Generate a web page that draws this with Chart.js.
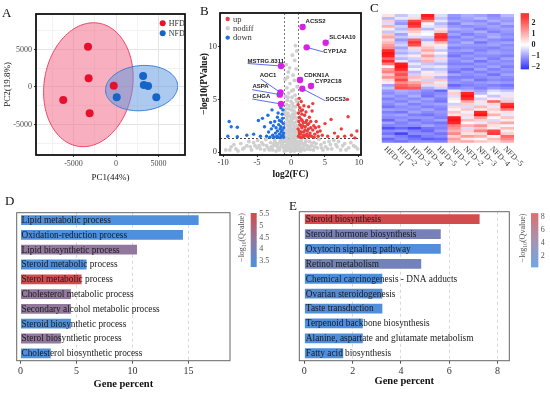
<!DOCTYPE html>
<html>
<head>
<meta charset="utf-8">
<script src="https://cdn.jsdelivr.net/npm/chart.js@4.4.1/dist/chart.umd.min.js"></script>
<style>
  body { margin: 0; background: #fff; }
  #wrap { position: relative; width: 550px; height: 395px; overflow: hidden; background: #fff; }
  canvas { position: absolute; }
  .tag { position: absolute; font-family: "Liberation Serif", serif; font-size: 13px; line-height: 13px; color: #111; }
</style>
</head>
<body>
<div id="wrap">
  <canvas id="pca" width="190" height="190" style="left:0;top:0"></canvas>
  <canvas id="volcano" width="185" height="190" style="left:180px;top:0"></canvas>
  <canvas id="heat" width="190" height="190" style="left:360px;top:0"></canvas>
  <canvas id="goBar" width="275" height="200" style="left:0;top:195px"></canvas>
  <canvas id="keggBar" width="275" height="200" style="left:275px;top:195px"></canvas>
  <div class="tag" style="left:2px;top:6px">A</div>
  <div class="tag" style="left:200px;top:4px">B</div>
  <div class="tag" style="left:370px;top:1px">C</div>
  <div class="tag" style="left:5px;top:194px">D</div>
  <div class="tag" style="left:289px;top:199px">E</div>
</div>
<script>
const SERIF = '"Liberation Serif", "Times New Roman", serif';
const SANS = '"Liberation Sans", Arial, sans-serif';

// ---- A: PCA scores ----
const hfdPC1 = [-3290, -3220, -6200, -3100, -270];
const hfdPC2 = [5370, 1160, -1730, -3500, 170];
const nfdPC1 = [3180, 3260, 3760, 80, 4730];
const nfdPC2 = [1470, 270, 130, -1370, -1370];
// confidence ellipses: centre PC1, centre PC2, half width, half height, tilt (deg)
const hfdEllipse = [-3250, 300, 5200, 8300, -7];
const nfdEllipse = [3000, -150, 4250, 3000, 7];

// ---- B: volcano, [log2FC, -log10 p] ----
const upGenes = [[1.1,1.5],[1.2,2.0],[1.3,2.6],[1.4,1.7],[1.5,3.1],[1.6,2.3],[1.7,1.4],[1.8,2.8],[1.9,1.9],[2.0,3.5],
  [2.1,2.4],[2.2,1.6],[2.3,3.0],[2.4,2.0],[2.5,1.45],[2.6,2.7],[2.7,3.3],[2.8,1.8],[2.9,2.3],[3.0,1.5],
  [3.1,3.9],[3.2,2.1],[3.35,2.5],[3.5,1.7],[3.7,2.9],[3.9,1.9],[4.1,2.4],[4.3,2.0],[4.6,1.6],[5.0,2.7],
  [5.4,1.5],[5.9,3.1],[6.4,1.8],[6.9,1.45],[7.4,2.2],[7.9,1.5],[8.4,3.35],[8.9,1.6],[9.4,1.35],[9.7,2.0],
  [8.3,5.0],[1.05,4.5],[1.2,5.1],[1.3,4.2],[1.5,4.8],[1.7,4.0],[2.6,4.3],[3.2,4.6],[1.1,3.7],[1.25,3.3],
  [1.45,3.9],[1.6,3.6],[1.9,4.4],[2.2,3.8],[1.05,2.2],[1.15,2.9],[1.35,1.4],[1.55,1.9],[1.75,2.5],[1.95,1.5],
  [2.15,2.8],[2.35,1.7],[2.55,2.2],[2.75,1.55],[1.25,1.8],[1.65,3.0],[2.05,2.1],[2.45,2.6],[1.85,1.6],[1.45,2.5],
  [2.9,2.9],[3.4,1.4],[3.6,2.3],[4.0,1.5]];
const downGenes = [[-9.3,1.5],[-9.1,2.9],[-8.8,2.4],[-7.9,2.35],[-7.9,1.45],[-6.5,1.6],[-5.5,1.7],[-4.8,3.0],
  [-4.2,3.2],[-3.9,2.4],[-3.4,3.5],[-2.8,4.0],[-2.4,2.9],[-1.9,3.7],[-1.6,2.2],[-1.4,2.9],[-3.6,1.5],[-3.3,1.9],
  [-3.1,1.4],[-2.9,2.2],[-2.7,1.6],[-2.6,2.5],[-2.5,1.4],[-2.3,1.8],[-2.2,2.3],[-2.1,1.5],[-2.0,2.0],[-1.9,1.4],
  [-1.8,2.6],[-1.7,1.7],[-1.6,1.35],[-1.5,2.4],[-1.45,1.9],[-1.4,1.5],[-1.3,2.1],[-1.25,3.2],[-1.2,1.6],[-1.15,2.7],
  [-1.1,1.4],[-1.05,2.3],[-1.3,3.6],[-1.5,4.2],[-2.0,3.3],[-1.2,4.0],[-1.7,3.0],[-3.0,2.8],[-4.5,1.5],[-1.1,1.8]];
const nodiffGenes = [[-0.9,1.5],[-0.7,1.8],[-0.5,2.1],[-0.3,1.6],[-0.1,2.4],[0.1,1.9],[0.3,2.6],[0.5,1.7],[0.7,2.2],[0.9,1.4],
  [-0.8,2.7],[-0.6,3.1],[-0.4,2.9],[-0.2,3.4],[0.0,3.0],[0.2,3.6],[0.4,3.2],[0.6,2.8],[0.8,3.3],[0.95,2.5],
  [-0.9,3.8],[-0.7,4.1],[-0.45,3.7],[-0.25,4.4],[0.05,4.0],[0.25,4.6],[0.45,3.9],[0.65,4.3],[0.85,4.8],[-0.55,4.9],
  [-0.8,5.3],[-0.35,5.6],[0.15,5.2],[0.35,5.9],[0.6,5.4],[0.9,6.2],[-0.6,6.1],[-0.15,6.5],[0.5,6.8],[-0.85,6.9],
  [0.3,7.3],[-0.4,7.6],[0.75,7.9],[-0.7,8.3],[0.55,8.7],[0.2,9.2],[-0.2,8.0],[0.85,9.6],[-0.5,7.1],[0.65,10.1],
  [-0.95,2.0],[-0.65,1.35],[-0.35,2.3],[-0.05,1.5],[0.15,2.9],[0.4,1.45],[0.55,2.45],[0.75,1.6],[0.9,3.0],[-0.75,3.5],
  [-0.15,2.7],[0.35,3.45],[-9.6,0.2],[-8.8,0.5],[-8.1,0.3],[-7.4,0.8],[-6.9,0.4],[-6.2,1.0],[-5.8,0.2],[-5.3,0.6],
  [-4.9,1.1],[-4.5,0.3],[-4.1,0.7],[-3.7,1.2],[-3.4,0.4],[-3.0,0.9],[-2.7,0.2],[-2.4,1.1],[-2.1,0.6],[-1.8,0.3],
  [-1.6,1.0],[-1.3,0.8],[-1.1,0.4],[-0.9,1.1],[-0.7,0.6],[-0.5,0.2],[-0.3,0.9],[-0.1,0.5],[0.1,1.2],[0.3,0.3],
  [0.5,0.8],[0.7,0.5],[0.9,1.0],[1.1,0.2],[1.3,0.7],[1.5,1.1],[1.8,0.4],[2.1,0.9],[2.4,0.3],[2.7,1.0],
  [3.0,0.6],[3.3,0.2],[3.7,0.8],[4.1,1.2],[4.5,0.4],[4.9,0.9],[5.4,0.3],[5.8,0.7],[6.3,1.1],[6.8,0.5],
  [7.3,0.2],[7.9,0.8],[8.5,0.4],[9.2,0.6],[9.8,0.3],[-2.2,0.1],[-1.9,0.8],[-1.5,0.5],[-1.2,1.2],[-0.8,0.3],
  [-0.6,0.9],[-0.4,0.5],[-0.2,1.1],[0.0,0.7],[0.2,0.2],[0.4,0.6],[0.6,1.1],[0.8,0.3],[1.0,0.9],[1.2,0.5],
  [1.4,0.1],[1.7,0.8],[2.0,0.2],[2.3,0.6],[2.6,0.4],[-2.9,0.5],[-3.2,0.2],[-2.5,0.8],[3.4,0.9],[3.9,0.4],
  [-4.3,0.9],[-5.0,0.4],[4.4,0.7],[5.1,0.5],[-6.5,0.6],[6.0,0.3],[-7.8,0.1],[7.6,0.6],[-0.05,0.05],[0.5,0.1],[-1.0,0.1],
  [-2.8,0.3],[-2.6,0.6],[-2.3,0.9],[-2.0,0.5],[-1.7,0.2],[-1.4,0.7],[-1.15,1.0],[-0.95,0.6],[-0.75,0.15],[-0.55,0.7],
  [-0.35,0.3],[-0.15,0.85],[0.05,0.35],[0.25,0.95],[0.45,0.25],[0.65,0.75],[0.85,0.2],[1.05,0.6],[1.25,1.0],[1.45,0.4],
  [1.65,0.25],[1.9,0.65],[2.2,1.05],[2.5,0.55],[2.8,0.25],[3.1,0.85],[3.5,0.5],[-3.6,0.6],[-3.9,0.2],[-4.7,0.6],
  [-5.5,0.9],[-6.0,0.5],[-7.1,0.3],[-8.4,0.7],[-9.0,0.2],[4.7,0.2],[5.6,1.0],[6.6,0.7],[7.0,1.0],[8.1,0.2],
  [8.8,0.9],[9.5,0.5],[-0.85,1.2],[-0.6,1.4],[-0.4,1.1],[-0.2,1.8],[0.0,1.3],[0.2,1.5],[0.45,2.0],[0.65,1.3],
  [0.85,1.8],[-0.5,2.5],[-0.25,2.0],[0.05,2.2],[0.3,2.2],[0.6,2.0],[-0.05,3.3],[0.5,3.6],[-0.55,3.4],[0.7,3.7],
  [-0.3,4.1],[0.3,4.3],[0.0,4.8],[-0.65,4.5],[0.75,5.0],[0.1,5.8],[-0.45,5.2]];
const geneNames = ['ACSS2', 'SLC4A10', 'CYP1A2', 'MSTRG.8311', 'CDKN1A', 'CYP2C18', 'SOCS3', 'AOC1', 'ASPA', 'CHGA'];
const geneFC = [1.7, 5.1, 2.3, -1.47, 1.32, 2.94, 1.66, -1.55, -1.65, -1.47];
const geneP = [11.87, 10.38, 9.94, 8.17, 6.84, 6.27, 6.01, 5.65, 5.45, 4.56];
const fcCut = 1;
const pCut = 1.3;

// ---- C: heatmap (rows top to bottom; HFD-1..5, NFD-1..5) ----
const heatCols = ['HFD−1', 'HFD−2', 'HFD−3', 'HFD−4', 'HFD−5', 'NFD−1', 'NFD−2', 'NFD−3', 'NFD−4', 'NFD−5'];
const heatRows = [
  [0.3,-0.5,-0.2,2.3,-0.3,-0.9,-0.7,-0.8,-1.0,-0.6],
  [-0.6,-0.2,0.4,2.1,-0.5,-1.0,-0.8,-0.6,-0.9,-0.8],
  [0.5,-0.7,1.9,1.2,-0.2,-0.8,-0.9,-1.0,-0.7,-0.9],
  [-0.3,-0.9,2.2,0.1,-0.6,-1.1,-0.7,-0.8,-1.0,-0.7],
  [0.8,-0.4,2.0,-0.2,-0.4,-0.9,-1.0,-0.9,-0.8,-1.0],
  [0.2,-0.6,0.9,-0.6,0.3,-0.7,-0.8,-1.1,-0.9,-0.8],
  [-0.5,-0.3,0.5,-0.1,0.6,-1.0,-0.9,-0.7,-1.1,-0.9],
  [0.6,-0.8,0.2,0.0,2.0,-0.8,-1.1,-0.9,-0.8,-1.0],
  [0.9,-0.5,-0.3,-0.4,2.2,-1.1,-0.8,-1.0,-0.7,-0.9],
  [0.4,-0.9,1.6,-0.7,1.8,-0.9,-1.0,-0.8,-1.0,-1.1],
  [0.7,-0.6,2.1,-0.2,0.8,-1.0,-0.7,-1.2,-0.9,-0.8],
  [1.0,-0.4,1.8,0.3,0.2,-0.8,-0.9,-0.9,-0.8,-1.0],
  [1.2,-0.8,0.4,0.6,-0.2,-1.1,-1.0,-1.0,-1.1,-0.9],
  [2.2,-0.5,-0.3,0.9,-0.5,-0.9,-0.8,-1.1,-0.9,-1.0],
  [2.4,-0.7,-0.5,0.4,0.1,-1.0,-1.1,-0.9,-0.8,-0.9],
  [2.3,-0.3,0.2,1.0,-0.4,-1.2,-0.9,-1.0,-1.0,-1.1],
  [1.6,-0.6,-0.4,0.5,0.4,-0.9,-1.0,-0.8,-1.1,-0.8],
  [2.2,-0.2,-0.6,0.8,-0.3,-1.0,-0.8,-1.2,-0.9,-1.0],
  [1.4,2.3,-0.2,-0.5,-0.6,-1.1,-1.1,-0.9,-1.0,-0.9],
  [0.1,2.4,-0.5,-0.3,-0.2,-0.9,-0.9,-1.0,-0.8,-1.1],
  [1.0,2.2,-0.1,-0.6,-0.5,-1.0,-1.2,-0.8,-1.1,-0.9],
  [1.3,1.5,-0.6,0.2,-0.3,-1.2,-0.9,-1.1,-0.9,-1.0],
  [0.6,1.8,-0.4,-0.2,0.3,-0.8,-1.0,-0.9,-1.2,-0.8],
  [1.1,1.4,0.7,0.5,-0.6,-1.1,-1.1,-1.0,-0.9,-1.0],
  [0.4,1.9,0.4,-0.4,0.6,-1.0,-0.8,-1.2,-1.0,-1.1],
  [0.2,1.2,0.9,0.6,-0.2,-0.9,-1.0,-0.9,-0.8,-0.9],
  [-0.8,1.6,1.3,-0.3,0.4,-1.3,-1.1,-1.0,-1.1,-1.2],
  [-0.5,1.8,1.7,-0.7,-0.4,-1.0,-0.9,-1.1,-0.9,-1.0],
  [-0.9,-0.7,-0.8,-1.0,-1.3,-0.2,-0.6,-0.8,-0.3,-0.5],
  [-1.0,-0.8,-0.9,-1.1,-1.0,0.5,2.2,-0.6,-0.1,-0.2],
  [-0.8,-1.0,-0.7,-1.2,-0.9,-0.3,2.4,0.1,-0.5,0.3],
  [-1.1,-0.9,-1.0,-0.8,-1.1,0.2,2.1,-0.4,0.2,-0.3],
  [-0.9,-1.1,-0.8,-1.0,-1.2,0.0,0.9,0.3,1.6,0.6],
  [-1.0,-0.8,-1.1,-0.9,-0.8,-0.4,0.5,-0.2,0.4,2.1],
  [-1.2,-1.0,-0.9,-1.1,-1.0,0.4,-0.3,0.7,-0.2,2.3],
  [-0.8,-0.9,-1.0,-0.8,-1.1,0.1,0.6,0.2,0.5,1.4],
  [-1.1,-1.2,-0.8,-1.0,-0.9,0.6,-0.1,2.2,0.2,0.3],
  [-0.9,-0.8,-1.1,-1.2,-1.0,0.3,0.4,2.4,0.8,-0.2],
  [-1.0,-1.0,-0.9,-0.9,-1.1,2.3,-0.2,1.0,0.1,0.6],
  [-1.3,-0.9,-1.2,-1.0,-0.8,2.4,0.7,0.5,-0.3,0.2],
  [-0.8,-1.1,-0.9,-1.1,-1.2,2.2,0.1,-0.2,0.6,0.9],
  [-1.1,-1.0,-1.0,-0.8,-1.0,1.3,0.8,1.1,0.3,-0.1],
  [-1.5,-1.3,-1.6,-1.2,-1.1,1.1,-0.3,0.6,0.2,0.7],
  [-1.0,-0.9,-1.1,-1.3,-0.9,0.8,0.5,1.3,1.9,0.2],
  [-1.2,-1.6,-1.0,-1.0,-1.2,1.2,0.3,0.4,2.0,0.5],
  [-0.9,-1.1,-1.4,-1.1,-1.0,0.5,1.0,0.8,0.1,1.5],
  [-1.3,-1.0,-1.2,-1.4,-1.3,1.0,0.2,0.1,0.7,1.2],
  [-1.1,-1.2,-1.0,-1.0,-1.1,0.7,0.9,0.6,0.4,0.8]
];
const heatTicks = [2, 1, 0, -1, -2];

// ---- D: GO enrichment ----
const goTerms = ['Lipid metabolic process', 'Oxidation-reduction process', 'Lipid biosynthetic process',
  'Steroid metabolic process', 'Sterol metabolic process', 'Cholesterol metabolic process',
  'Secondary alcohol metabolic process', 'Steroid biosynthetic process', 'Sterol biosynthetic process',
  'Cholesterol biosynthetic process'];
const goPercent = [15.9, 14.5, 10.4, 5.9, 5.45, 4.5, 4.5, 4.5, 3.6, 2.7];
const goLogQ = [3.3, 3.3, 4.4, 3.3, 5.5, 4.4, 4.4, 3.3, 4.4, 3.3];
const goTicks = [5.5, 5, 4.5, 4, 3.5];

// ---- E: KEGG enrichment ----
const keggTerms = ['Steroid biosynthesis', 'Steroid hormone biosynthesis', 'Oxytocin signaling pathway',
  'Retinol metabolism', 'Chemical carcinogenesis - DNA adducts', 'Ovarian steroidogenesis',
  'Taste transduction', 'Terpenoid backbone biosynthesis', 'Alanine, aspartate and glutamate metabolism',
  'Fatty acid biosynthesis'];
const keggPercent = [7.26, 5.65, 5.65, 4.84, 3.23, 3.23, 3.23, 2.42, 2.42, 1.61];
const keggLogQ = [8.4, 2.8, 0.6, 2.6, 0.5, 0.5, 0.5, 0.5, 0.5, 0.5];
const keggTicks = [8, 6, 4, 2];

// ---------- helpers ----------
function mix(a, b, t) { return a.map((v, i) => Math.round(v + (b[i] - v) * t)); }
function qColor(v, lo, hi) {
  const t = Math.max(0, Math.min(1, (v - lo) / (hi - lo)));
  const low = [74, 144, 226], mid = [145, 120, 158], high = [212, 74, 74];
  const c = t < 0.5 ? mix(low, mid, t * 2) : mix(mid, high, (t - 0.5) * 2);
  return `rgb(${c[0]},${c[1]},${c[2]})`;
}
function heatColor(v) {
  if (v >= 0) { const t = Math.min(v / 2.6, 1); const g = Math.round(255 * (1 - t)); return `rgb(255,${g},${g})`; }
  const t = Math.min(-v / 2.2, 1); const g = Math.round(255 * (1 - t)); return `rgb(${g},${g},255)`;
}
function drawColorbar(ctx, o) {
  for (let py = 0; py < o.h; py++) {
    const v = o.max - (py + 0.5) / o.h * (o.max - o.min);
    ctx.fillStyle = o.color(v);
    ctx.fillRect(o.x, o.y + py, o.w, 1);
  }
  ctx.font = o.font; ctx.fillStyle = o.textColor;
  ctx.textBaseline = 'middle'; ctx.textAlign = 'left';
  o.ticks.forEach(t => {
    const py = o.y + (o.max - t) / (o.max - o.min) * o.h;
    ctx.fillText(String(t).replace('-', '−'), o.x + o.w + 2.5, py);
  });
}
// rotated "−log10(Qvalue)" with subscript
function drawQTitle(ctx, cx, cy, size) {
  const parts = [['−log', size, 0], ['10', size * 0.7, 2], ['(Qvalue)', size, 0]];
  ctx.save();
  ctx.translate(cx, cy); ctx.rotate(-Math.PI / 2);
  let total = 0;
  parts.forEach(p => { ctx.font = `${p[1]}px ${SERIF}`; total += ctx.measureText(p[0]).width; });
  let x = -total / 2;
  ctx.fillStyle = '#555'; ctx.textBaseline = 'middle'; ctx.textAlign = 'left';
  parts.forEach(p => { ctx.font = `${p[1]}px ${SERIF}`; ctx.fillText(p[0], x, p[2]); x += ctx.measureText(p[0]).width; });
  ctx.restore();
}

const framePlugin = {
  id: 'frame',
  afterDatasetsDraw(chart, args, opts) {
    const { ctx, chartArea: c } = chart;
    ctx.save();
    ctx.strokeStyle = opts.color; ctx.lineWidth = opts.width;
    ctx.strokeRect(c.left, c.top, c.right - c.left, c.bottom - c.top);
    ctx.restore();
  }
};
const dotLegendPlugin = {
  id: 'dotLegend',
  afterDraw(chart, args, opts) {
    const { ctx } = chart;
    ctx.save();
    ctx.font = `${opts.size}px ${SERIF}`; ctx.textBaseline = 'middle'; ctx.fillStyle = '#333';
    opts.items.forEach((it, i) => {
      const y = opts.y + i * opts.gap;
      ctx.beginPath(); ctx.arc(opts.x, y, opts.r, 0, Math.PI * 2);
      ctx.fillStyle = it.color; ctx.fill();
      ctx.fillStyle = '#333'; ctx.fillText(it.label, opts.x + opts.r + 3, y + 0.5);
    });
    ctx.restore();
  }
};
const ellipsePlugin = {
  id: 'ellipses',
  beforeDatasetsDraw(chart, args, opts) {
    const { ctx, scales: { x, y } } = chart;
    opts.items.forEach(e => {
      const [cx, cy, a, b, deg] = e.shape;
      const th = deg * Math.PI / 180;
      ctx.save();
      ctx.beginPath();
      for (let i = 0; i <= 120; i++) {
        const t = i / 120 * Math.PI * 2;
        const dx = a * Math.cos(t), dy = b * Math.sin(t);
        const px = x.getPixelForValue(cx + dx * Math.cos(th) - dy * Math.sin(th));
        const py = y.getPixelForValue(cy + dx * Math.sin(th) + dy * Math.cos(th));
        i ? ctx.lineTo(px, py) : ctx.moveTo(px, py);
      }
      ctx.closePath();
      ctx.fillStyle = e.fill; ctx.fill();
      ctx.strokeStyle = e.stroke; ctx.lineWidth = 1; ctx.stroke();
      ctx.restore();
    });
  }
};
const cutLinePlugin = {
  id: 'cutLines',
  beforeDatasetsDraw(chart) {
    const { ctx, chartArea: c, scales: { x, y } } = chart;
    ctx.save();
    ctx.setLineDash([2, 2]); ctx.lineWidth = 1;
    ctx.strokeStyle = '#777';
    [-fcCut, fcCut].forEach(v => {
      const px = Math.round(x.getPixelForValue(v)) + 0.5;
      ctx.beginPath(); ctx.moveTo(px, c.top); ctx.lineTo(px, c.bottom); ctx.stroke();
    });
    ctx.strokeStyle = '#444';
    const py = Math.round(y.getPixelForValue(pCut)) + 0.5;
    ctx.beginPath(); ctx.moveTo(c.left, py); ctx.lineTo(c.right, py); ctx.stroke();
    ctx.restore();
  }
};
// label offsets in px from each highlighted gene: text left/middle, line end
const geneLabelLayout = [
  [3, -5.3, 2.5, -3], [3.7, -5, 3, -3], [16.7, 3.7, 16.5, 4.5], [-33.4, -5, -33.4, -2.5],
  [4, -5, 2.5, -3], [4, -5, 2.5, -3], [23.3, 10.8, 23, 12], [-20.7, -16.7, -19.7, -13.5],
  [-27.4, -8.7, -27.7, -5], [-28.4, -8, -28.7, -5]
];
const geneLabelPlugin = {
  id: 'geneLabels',
  afterDatasetsDraw(chart) {
    const { ctx, scales: { x, y } } = chart;
    ctx.save();
    geneNames.forEach((name, i) => {
      const px = x.getPixelForValue(geneFC[i]), py = y.getPixelForValue(geneP[i]);
      const [tdx, tdy, ldx, ldy] = geneLabelLayout[i];
      ctx.strokeStyle = '#4a5cf0'; ctx.lineWidth = 0.9;
      ctx.beginPath(); ctx.moveTo(px, py); ctx.lineTo(px + ldx, py + ldy); ctx.stroke();
      ctx.font = `bold 6px ${SANS}`; ctx.fillStyle = '#222'; ctx.textBaseline = 'middle';
      ctx.fillText(name, px + tdx, py + tdy);
    });
    ctx.restore();
  }
};

const baseOpts = { responsive: false, animation: false, devicePixelRatio: 1 };
const noTip = { legend: { display: false }, tooltip: { enabled: false } };

// ---------- A ----------
new Chart(document.getElementById('pca'), {
  type: 'scatter',
  data: {
    datasets: [
      { label: 'HFD', data: hfdPC1.map((x, i) => ({ x, y: hfdPC2[i] })), backgroundColor: '#e8112d', pointRadius: 4, borderWidth: 0 },
      { label: 'NFD', data: nfdPC1.map((x, i) => ({ x, y: nfdPC2[i] })), backgroundColor: '#1565c8', pointRadius: 4, borderWidth: 0 }
    ]
  },
  plugins: [ellipsePlugin, framePlugin, dotLegendPlugin],
  options: {
    ...baseOpts,
    layout: { padding: { top: 14, right: 5, left: 0, bottom: 0 } },
    plugins: {
      ...noTip,
      ellipses: { items: [
        { shape: hfdEllipse, fill: 'rgba(243,110,140,0.55)', stroke: '#ef4668' },
        { shape: nfdEllipse, fill: 'rgba(90,150,225,0.5)', stroke: '#3a7fd4' }
      ] },
      frame: { color: '#111', width: 1.8 },
      dotLegend: { x: 162.7, y: 23.3, gap: 10, r: 3, size: 8, items: [{ label: 'HFD', color: '#e8112d' }, { label: 'NFD', color: '#1565c8' }] }
    },
    scales: {
      x: {
        type: 'linear', min: -9400, max: 8100,
        afterFit: s => { s.height = 35; },
        afterBuildTicks: s => { s.ticks = [-7500, -5000, -2500, 0, 2500, 5000, 7500].map(v => ({ value: v })); },
        ticks: { autoSkip: false, maxRotation: 0, padding: 2, color: '#4d4d4d', font: { family: SERIF, size: 8 },
          callback: v => (v % 5000 === 0 ? String(v) : '') },
        grid: { color: c => (c.tick && c.tick.value % 5000 === 0 ? '#e4e4e4' : '#f2f2f2'),
          tickColor: c => (c.tick && c.tick.value % 5000 === 0 ? '#333' : 'rgba(0,0,0,0)'), tickLength: 2 },
        border: { display: false },
        title: { display: true, text: 'PC1(44%)', color: '#111', font: { family: SERIF, size: 9 }, padding: { top: 0, bottom: 6.6 } }
      },
      y: {
        type: 'linear', min: -9070, max: 9730,
        afterFit: s => { s.width = 36; },
        afterBuildTicks: s => { s.ticks = [-7500, -5000, -2500, 0, 2500, 5000, 7500].map(v => ({ value: v })); },
        ticks: { autoSkip: false, padding: 2, color: '#4d4d4d', font: { family: SERIF, size: 8 },
          callback: v => (v % 5000 === 0 ? String(v) : '') },
        grid: { color: c => (c.tick && c.tick.value % 5000 === 0 ? '#e4e4e4' : '#f2f2f2'),
          tickColor: c => (c.tick && c.tick.value % 5000 === 0 ? '#333' : 'rgba(0,0,0,0)'), tickLength: 2 },
        border: { display: false },
        title: { display: true, text: 'PC2(19.8%)', color: '#111', font: { family: SERIF, size: 9 }, padding: { top: 2.6, bottom: 0 } }
      }
    }
  }
});

// ---------- B ----------
new Chart(document.getElementById('volcano'), {
  type: 'scatter',
  data: {
    datasets: [
      { label: 'nodiff', data: nodiffGenes.map(([x, y]) => ({ x, y })), backgroundColor: '#cfcfcf', pointRadius: 1.9, borderWidth: 0, order: 3 },
      { label: 'up', data: upGenes.map(([x, y]) => ({ x, y })), backgroundColor: '#ee3b3b', pointRadius: 1.7, borderWidth: 0, order: 2 },
      { label: 'down', data: downGenes.map(([x, y]) => ({ x, y })), backgroundColor: '#1f6fe0', pointRadius: 1.7, borderWidth: 0, order: 2 },
      { label: 'marked', data: geneFC.map((x, i) => ({ x, y: geneP[i] })), backgroundColor: '#e31ee3', pointRadius: 3.2, borderWidth: 0, order: 1 }
    ]
  },
  plugins: [cutLinePlugin, framePlugin, geneLabelPlugin, dotLegendPlugin],
  options: {
    ...baseOpts,
    layout: { padding: { top: 13, right: 3, left: 0, bottom: 0 } },
    plugins: {
      ...noTip,
      frame: { color: '#111', width: 1.8 },
      dotLegend: { x: 47.7, y: 19, gap: 9.3, r: 2.2, size: 8.5, items: [
        { label: 'up', color: '#ee3b3b' }, { label: 'nodiff', color: '#cfcfcf' }, { label: 'down', color: '#1f6fe0' }] }
    },
    scales: {
      x: {
        type: 'linear', min: -10.45, max: 10.3,
        afterFit: s => { s.height = 35; },
        afterBuildTicks: s => { s.ticks = [-10, -5, 0, 5, 10].map(v => ({ value: v })); },
        ticks: { autoSkip: false, maxRotation: 0, padding: 1, color: '#333', font: { family: SERIF, size: 8.5 }, callback: v => String(v) },
        grid: { drawOnChartArea: false, tickColor: '#333', tickLength: 2 },
        border: { display: false },
        title: { display: true, text: 'log2(FC)', color: '#111', font: { family: SERIF, size: 9.5, weight: 'bold' }, padding: { top: 0, bottom: 10 } }
      },
      y: {
        type: 'linear', min: -0.28, max: 13.2,
        afterFit: s => { s.width = 40; },
        afterBuildTicks: s => { s.ticks = [0, 5, 10].map(v => ({ value: v })); },
        ticks: { autoSkip: false, padding: 1, color: '#333', font: { family: SERIF, size: 8.5 }, callback: v => String(v) },
        grid: { drawOnChartArea: false, tickColor: '#333', tickLength: 2 },
        border: { display: false },
        title: { display: true, text: '−log10(PValue)', color: '#111', font: { family: SERIF, size: 9.5, weight: 'bold' }, padding: { top: 19.3, bottom: 0 } }
      }
    }
  }
});

// ---------- C ----------
const heatDecor = {
  id: 'heatDecor',
  afterDraw(chart) {
    const { ctx, chartArea: c, scales: { x } } = chart;
    ctx.save();
    ctx.font = `8px ${SERIF}`; ctx.fillStyle = '#333'; ctx.textBaseline = 'middle'; ctx.textAlign = 'left';
    heatCols.forEach((lab, i) => {
      ctx.save();
      ctx.translate(x.getPixelForValue(i) - 3, c.bottom + 5);
      ctx.rotate(Math.PI / 4);
      ctx.fillText(lab, 0, 0);
      ctx.restore();
    });
    drawColorbar(ctx, { x: 160.7, y: 13.3, w: 8.3, h: 55.7, min: -2.2, max: 2.93, color: heatColor,
      ticks: heatTicks, font: `bold 8px ${SERIF}`, textColor: '#222' });
    ctx.restore();
  }
};
new Chart(document.getElementById('heat'), {
  type: 'bar',
  data: {
    labels: heatCols,
    datasets: heatRows.map(row => ({
      data: row.map(() => 1),
      backgroundColor: row.map(heatColor),
      borderWidth: 0, barPercentage: 1, categoryPercentage: 1
    }))
  },
  plugins: [heatDecor],
  options: {
    ...baseOpts,
    layout: { padding: { top: 14, left: 21.7, right: 36, bottom: 47.3 } },
    plugins: { ...noTip },
    scales: {
      x: { stacked: true, display: false },
      y: { stacked: true, display: false, reverse: true, min: 0, max: heatRows.length }
    }
  }
});

// ---------- D / E ----------
function enrichChart(id, terms, values, logQ, o) {
  const textPlugin = {
    id: 'barText',
    afterDatasetsDraw(chart) {
      const { ctx } = chart;
      const meta = chart.getDatasetMeta(0);
      const x0 = chart.scales.x.getPixelForValue(0);
      ctx.save();
      ctx.font = `9.3px ${SERIF}`; ctx.fillStyle = '#1a1a1a'; ctx.textBaseline = 'middle'; ctx.textAlign = 'left';
      terms.forEach((t, i) => ctx.fillText(t, x0 + o.textDx, meta.data[i].y + 0.5));
      drawColorbar(ctx, { x: o.cb.x, y: o.cb.y, w: o.cb.w, h: o.cb.h, min: o.qMin, max: o.qMax,
        color: v => qColor(v, o.qMin, o.qMax), ticks: o.qTicks, font: `8px ${SERIF}`, textColor: '#555' });
      drawQTitle(ctx, o.cb.titleX, o.cb.titleY, 8);
      ctx.restore();
    }
  };
  return new Chart(document.getElementById(id), {
    type: 'bar',
    data: {
      labels: terms,
      datasets: [{ data: values, backgroundColor: logQ.map(v => qColor(v, o.qMin, o.qMax)),
        borderWidth: 0, barPercentage: 0.66, categoryPercentage: 1 }]
    },
    plugins: [framePlugin, textPlugin],
    options: {
      ...baseOpts,
      indexAxis: 'y',
      layout: { padding: o.padding },
      plugins: { ...noTip, frame: { color: '#666', width: 1 } },
      scales: {
        y: { display: false, offset: true },
        x: {
          type: 'linear', min: o.xMin, max: o.xMax,
          afterFit: s => { s.height = o.axisH; },
          afterBuildTicks: s => { s.ticks = o.xTicks.map(v => ({ value: v })); },
          ticks: { autoSkip: false, maxRotation: 0, padding: 2, color: '#333', font: { family: SERIF, size: 10 }, callback: v => String(v) },
          grid: { color: c => (c.tick && c.tick.value === 0 ? 'rgba(0,0,0,0)' : '#d8d8d8'), tickColor: '#555', tickLength: 3 },
          border: { display: false, dash: [3, 3] },
          title: { display: true, text: 'Gene percent', color: '#111', font: { family: SERIF, size: 10.5, weight: 'bold' }, padding: { top: 0, bottom: o.titlePad } }
        }
      }
    }
  });
}

enrichChart('goBar', goTerms, goPercent, goLogQ, {
  padding: { top: 17.7, left: 16.7, right: 45, bottom: 0 }, axisH: 34.3, titlePad: 4.7,
  xMin: -0.34, xMax: 18.7, xTicks: [0, 5, 10, 15], textDx: 1,
  qMin: 3.23, qMax: 5.55, qTicks: goTicks,
  cb: { x: 250.7, y: 18, w: 6, h: 54, titleX: 242.3, titleY: 42.5 }
});
enrichChart('keggBar', keggTerms, keggPercent, keggLogQ, {
  padding: { top: 16.7, left: 24.3, right: 40.7, bottom: 0 }, axisH: 34.3, titlePad: 7,
  xMin: -0.21, xMax: 8.49, xTicks: [0, 2, 4, 6, 8], textDx: 1.5,
  qMin: 0.15, qMax: 8.55, qTicks: keggTicks,
  cb: { x: 256, y: 18.3, w: 7.3, h: 54, titleX: 248.3, titleY: 43 }
});
</script>
</body>
</html>
